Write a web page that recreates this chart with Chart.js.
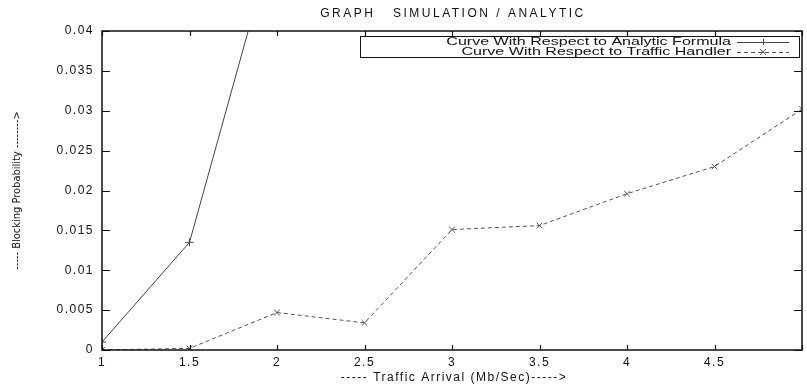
<!DOCTYPE html>
<html lang="en">
<head>
  <meta charset="UTF-8" />
  <title>Graph Simulation / Analytic</title>
  <script src="https://cdn.jsdelivr.net/npm/chart.js"></script>
  <style>
    html, body { margin: 0; padding: 0; background: #fff; }
    #wrap { width: 807px; height: 387px; }
  </style>
</head>
<body>
  <div id="wrap"><canvas id="graph"></canvas></div>

  <script>
    // values
    const arrival = [1, 1.5, 2, 2.5, 3, 3.5, 4, 4.5, 5];
    const analytic = [0.001, 0.0135, 0.053];
    const trafficHandler = [0, 0.0002, 0.0047, 0.0034, 0.0151, 0.0156, 0.0196, 0.0230, 0.0302];
    const xTicks = [1, 1.5, 2, 2.5, 3, 3.5, 4, 4.5, 5];
    const yTicks = [0, 0.005, 0.01, 0.015, 0.02, 0.025, 0.03, 0.035, 0.04];

    const titleText = 'GRAPH   SIMULATION / ANALYTIC';
    const xTitle = '----- Traffic Arrival (Mb/Sec)----->';
    const yTitle = '----- Blocking Probability -------->';

    const FONT = '"Liberation Sans", Arial, sans-serif';
    const NARROW = '"Liberation Sans Narrow", "DejaVu Sans Condensed", sans-serif';

    const toPoints = (vals) => vals.map((v, i) => ({ x: arrival[i], y: v }));

    // gnuplot-like frame: box, inward ticks, titles and boxed legend
    const framePlugin = {
      id: 'frame',
      beforeDraw(chart) {
        chart.ctx.letterSpacing = '1.5px';
      },
      afterDraw(chart) {
        const { ctx, chartArea: a, scales: { x, y } } = chart;
        ctx.save();
        ctx.strokeStyle = '#111';
        ctx.lineWidth = 1.5;
        ctx.strokeRect(a.left, a.top, a.right - a.left, a.bottom - a.top);

        ctx.lineWidth = 1.2;
        ctx.beginPath();
        xTicks.forEach(v => {
          const px = Math.round(x.getPixelForValue(v)) + 0.5;
          ctx.moveTo(px, a.bottom); ctx.lineTo(px, a.bottom - 5);
          ctx.moveTo(px, a.top); ctx.lineTo(px, a.top + 5);
        });
        yTicks.forEach(v => {
          const py = Math.round(y.getPixelForValue(v)) + 0.5;
          ctx.moveTo(a.left, py); ctx.lineTo(a.left + 8, py);
          ctx.moveTo(a.right, py); ctx.lineTo(a.right - 8, py);
        });
        ctx.stroke();

        // titles
        ctx.fillStyle = '#111';
        ctx.textBaseline = 'middle';
        ctx.textAlign = 'center';
        ctx.letterSpacing = '2.5px';
        ctx.font = '12px ' + FONT;
        ctx.fillText(titleText, (a.left + a.right) / 2 + 1, 14);

        ctx.letterSpacing = '1.5px';
        ctx.fillText(xTitle, (a.left + a.right) / 2 + 2, 378);

        ctx.letterSpacing = '0px';
        ctx.font = '11px ' + NARROW;
        ctx.save();
        ctx.translate(17, (a.top + a.bottom) / 2);
        ctx.rotate(-Math.PI / 2);
        ctx.fillText(yTitle, 0, 0);
        ctx.restore();

        // legend box, text stretched sideways like the original
        const bx = 360, by = 36, bw = 439, bh = 21;
        ctx.lineWidth = 1;
        ctx.strokeStyle = '#111';
        ctx.strokeRect(bx + 0.5, by + 0.5, bw, bh);
        ctx.font = '11px ' + FONT;
        ctx.letterSpacing = '0px';
        ctx.textAlign = 'right';
        const sx = 1.46;
        chart.data.datasets.forEach((ds, i) => {
          const ry = 42 + i * 10;
          ctx.save();
          ctx.scale(sx, 1);
          ctx.fillText(ds.label, 731 / sx, ry);
          ctx.restore();
          ctx.save();
          ctx.strokeStyle = ds.borderColor;
          ctx.lineWidth = 1;
          ctx.setLineDash(ds.borderDash || []);
          ctx.beginPath();
          ctx.moveTo(737, ry + 0.5); ctx.lineTo(789, ry + 0.5);
          ctx.stroke();
          ctx.setLineDash([]);
          ctx.beginPath();
          const cx = 763, r = 3;
          if (ds.pointStyle === 'cross') {
            ctx.moveTo(cx - r, ry + 0.5); ctx.lineTo(cx + r, ry + 0.5);
            ctx.moveTo(cx + 0.5, ry - r); ctx.lineTo(cx + 0.5, ry + r);
          } else {
            ctx.moveTo(cx - r, ry - r); ctx.lineTo(cx + r, ry + r);
            ctx.moveTo(cx + r, ry - r); ctx.lineTo(cx - r, ry + r);
          }
          ctx.stroke();
          ctx.restore();
        });
        ctx.restore();
      }
    };

    const ctx = document.getElementById('graph').getContext('2d');
    const chart = new Chart(ctx, {
      type: 'line',
      data: {
        datasets: [
          {
            label: 'Curve With Respect to Analytic Formula',
            data: toPoints(analytic),
            borderColor: '#444',
            backgroundColor: '#444',
            borderWidth: 1,
            pointStyle: 'cross',
            pointRadius: 4,
            pointBorderWidth: 1,
            tension: 0
          },
          {
            label: 'Curve With Respect to Traffic Handler',
            data: toPoints(trafficHandler),
            borderColor: '#555',
            backgroundColor: '#555',
            borderWidth: 1,
            borderDash: [4, 3],
            pointStyle: 'crossRot',
            pointRadius: 4,
            pointBorderWidth: 1,
            tension: 0
          }
        ]
      },
      options: {
        responsive: true,
        maintainAspectRatio: false,
        animation: false,
        layout: { padding: { top: 31, right: 1, left: 0, bottom: 0 } },
        plugins: {
          legend: { display: false },
          title: { display: false },
          tooltip: { enabled: false }
        },
        scales: {
          x: {
            type: 'linear',
            min: 1,
            max: 5,
            grid: { display: false, drawTicks: false },
            border: { display: false },
            afterBuildTicks: s => { s.ticks = xTicks.map(v => ({ value: v })); },
            afterFit: s => { s.height = 37; },
            ticks: {
              autoSkip: false,
              maxRotation: 0,
              padding: 5,
              color: '#111',
              font: { family: FONT, size: 12 },
              callback: v => (v === 5 ? '' : String(v))
            }
          },
          y: {
            min: 0,
            max: 0.04,
            grid: { display: false, drawTicks: false },
            border: { display: false },
            afterBuildTicks: s => { s.ticks = yTicks.map(v => ({ value: v })); },
            afterFit: s => { s.width = 102; },
            ticks: {
              padding: 8,
              color: '#111',
              font: { family: FONT, size: 12 },
              callback: v => String(+v.toFixed(3))
            }
          }
        }
      },
      plugins: [framePlugin]
    });
  </script>
</body>
</html>
